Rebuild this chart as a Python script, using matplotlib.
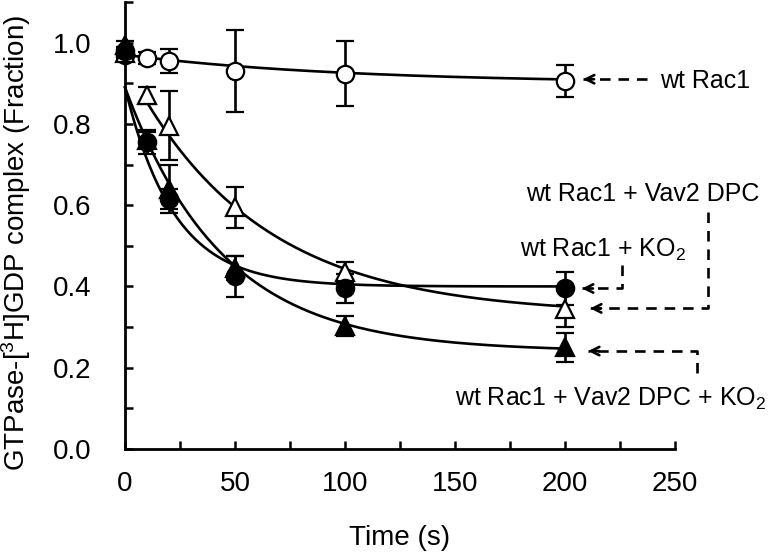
import numpy as np
import matplotlib
matplotlib.use("Agg")
import matplotlib.pyplot as plt
from matplotlib.ticker import MultipleLocator, FormatStrFormatter

plt.rcParams['font.family'] = ['Liberation Sans', 'DejaVu Sans']
plt.rcParams['mathtext.fontset'] = 'custom'
plt.rcParams['mathtext.rm'] = 'Liberation Sans'
plt.rcParams['mathtext.it'] = 'Liberation Sans'

# ---- data ----
time_s = [0, 10, 20, 50, 100, 200]

wt_y = [0.97, 0.963, 0.955, 0.93, 0.924, 0.905]
wt_err = [0.01, 0.015, 0.03, 0.10, 0.08, 0.04]

ko2_y = [0.98, 0.755, 0.615, 0.425, 0.395, 0.395]
ko2_err = [0.01, 0.03, 0.025, 0.05, 0.035, 0.04]

vav_y = [0.975, 0.87, 0.795, 0.595, 0.435, 0.345]
vav_err = [0.01, 0.02, 0.085, 0.05, 0.025, 0.045]

vavko_y = [0.995, 0.76, 0.64, 0.445, 0.302, 0.25]
vavko_err = [0.01, 0.02, 0.06, 0.03, 0.025, 0.035]

# single-exponential fit parameters: plateau, amplitude, rate (1/s), start time
fit_wt = [0.90, 0.07, 0.010, 0]
fit_ko2 = [0.40, 0.49, 0.045, 0]
fit_vav = [0.33, 0.62, 0.017, 10]
fit_vavko = [0.24, 0.65, 0.0226, 0]

labels = ["wt Rac1", "wt Rac1 + KO$_2$", "wt Rac1 + Vav2 DPC",
          "wt Rac1 + Vav2 DPC + KO$_2$"]

W, H = 779, 554
fig = plt.figure(figsize=(W / 100, H / 100), dpi=100)
ax = fig.add_axes([125 / W, 1 - 449 / H, 550 / W, 447 / H])

lw = 1.9


def curve(p, tmax=200):
    t = np.linspace(p[3], tmax, 300)
    return t, p[0] + p[1] * np.exp(-p[2] * t)


for p in (fit_wt, fit_vav, fit_vavko, fit_ko2):
    t, y = curve(p)
    ax.plot(t, y, color='black', lw=lw, zorder=2, clip_on=False)

common = dict(color='black', ecolor='black', elinewidth=lw, capsize=6.5,
              capthick=lw, linestyle='none', clip_on=False, zorder=3,
              markeredgewidth=1.6, markeredgecolor='black')

ax.errorbar(time_s, wt_y, yerr=wt_err, marker='o', ms=12.5, mfc='white', **common)
ax.errorbar(time_s, vav_y, yerr=vav_err, marker='^', ms=13, mfc='white', **common)
ax.errorbar(time_s, vavko_y, yerr=vavko_err, marker='^', ms=13, mfc='black', **common)
ax.errorbar(time_s, ko2_y, yerr=ko2_err, marker='o', ms=12.5, mfc='black', **common)

ax.set_xlim(0, 250)
ax.set_ylim(0, 1.1)
ax.xaxis.set_major_locator(MultipleLocator(50))
ax.xaxis.set_minor_locator(MultipleLocator(25))
ax.yaxis.set_major_locator(MultipleLocator(0.2))
ax.yaxis.set_minor_locator(MultipleLocator(0.1))
ax.yaxis.set_major_formatter(FormatStrFormatter('%.1f'))
ax.set_yticks([0, 0.2, 0.4, 0.6, 0.8, 1.0])

for s in ('top', 'right'):
    ax.spines[s].set_visible(False)
for s in ('left', 'bottom'):
    ax.spines[s].set_linewidth(2.0)

ax.tick_params(axis='both', which='both', direction='in', length=6, width=1.8,
               labelsize=20)
ax.tick_params(axis='y', which='both', pad=24)
ax.tick_params(axis='x', which='both', pad=16)

ax.set_xlabel('Time (s)', fontsize=20, labelpad=20)
ax.set_ylabel('GTPase-[$^{3}$H]GDP complex (Fraction)', fontsize=20)
ax.yaxis.set_label_coords(-(125 - 33) / 550, 0.5 * 449 / 447 - 0.04)

# ---- annotations (dashed leader arrows) ----
dash = dict(color='black', lw=1.9, linestyle=(0, (4, 3)), clip_on=False, zorder=4)


def arrow(path_x, path_y):
    ax.plot(path_x, path_y, **dash)
    hx, hy = path_x[-1], path_y[-1]
    ax.annotate('', xy=(hx, hy), xytext=(hx + 5, hy),
                arrowprops=dict(arrowstyle='->,head_length=0.6,head_width=0.3',
                                lw=1.9, color='black', shrinkA=0, shrinkB=0),
                annotation_clip=False)


arrow([237.3, 208.2], [0.91, 0.91])
ax.text(243.2, 0.905, labels[0], fontsize=18, va='center', ha='left')

arrow([225.9, 225.9, 207.7], [0.452, 0.395, 0.395])
ax.text(217.3, 0.49, labels[1], fontsize=18, va='center', ha='center')

arrow([265.0, 265.0, 211.4], [0.583, 0.346, 0.346])
ax.text(235.5, 0.627, labels[2], fontsize=18, va='center', ha='center')

arrow([260.0, 260.0, 210.5], [0.188, 0.241, 0.241])
ax.text(220.9, 0.124, labels[3], fontsize=18, va='center', ha='center')

fig.savefig('out.png', dpi=100)
